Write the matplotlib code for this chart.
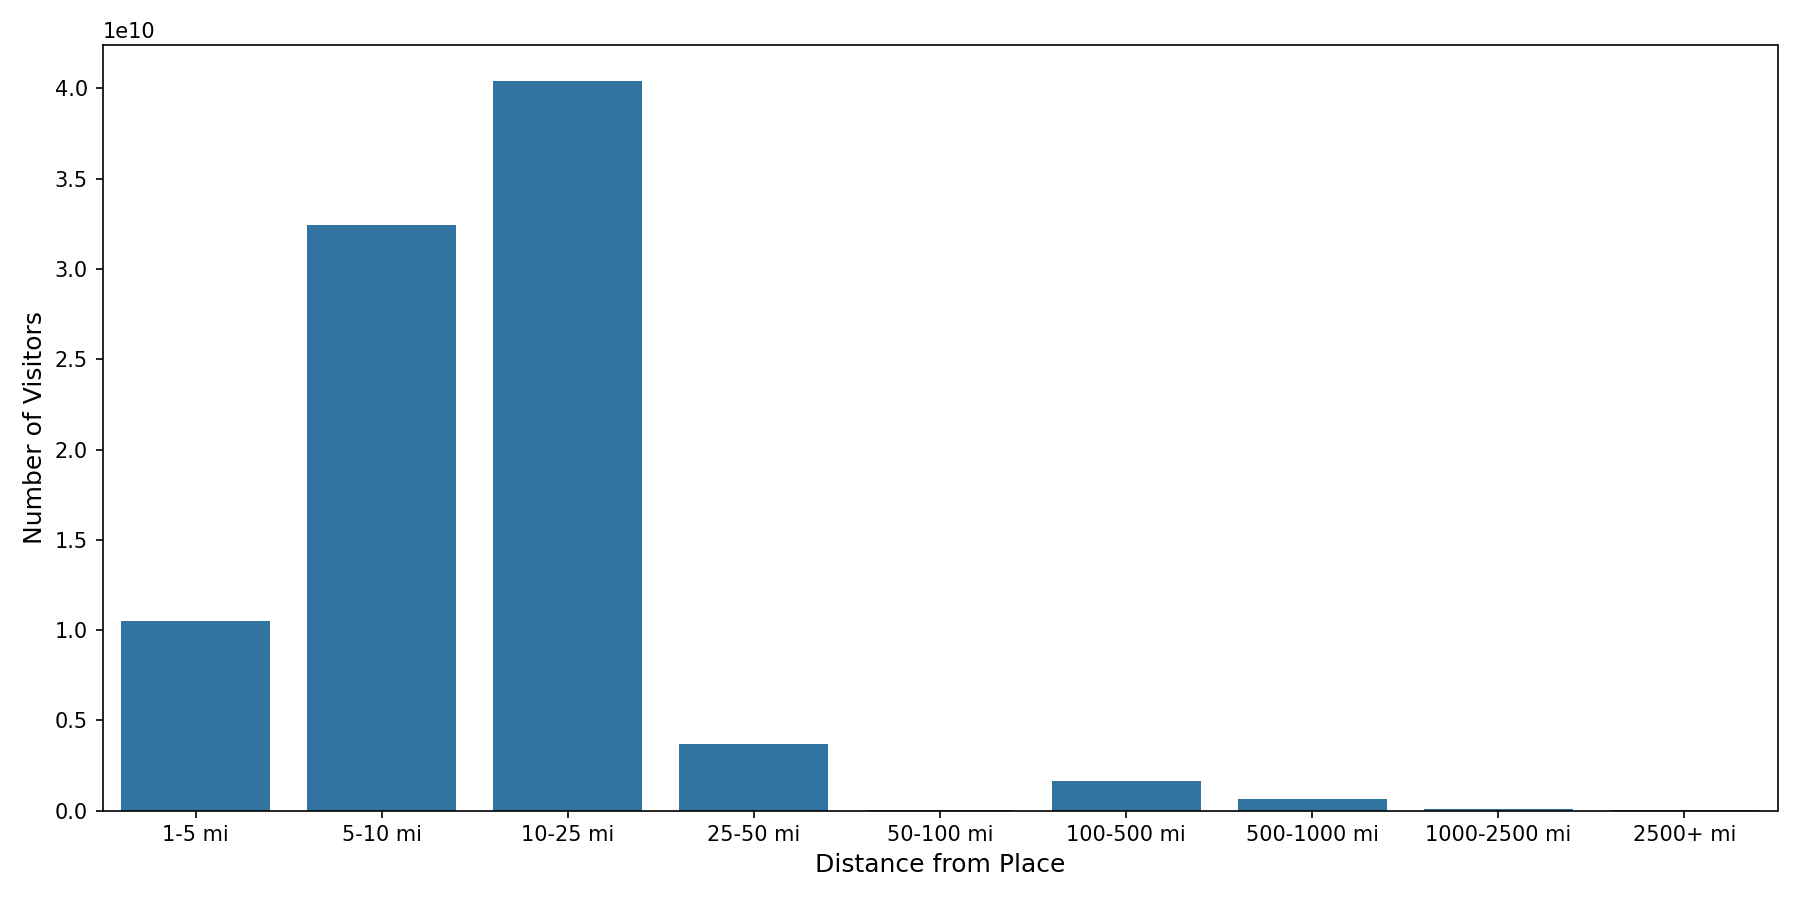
import numpy as np
import pandas as pd
import seaborn as sns
import matplotlib
matplotlib.use("Agg")
import matplotlib.pyplot as plt

# === DONNÉES ===
distances = ["1-5 mi", "5-10 mi", "10-25 mi", "25-50 mi", "50-100 mi",
             "100-500 mi", "500-1000 mi", "1000-2500 mi", "2500+ mi"]
visitors = [1.05e10, 3.245e10, 4.04e10, 0.371e10, 0.002e10,
            0.165e10, 0.066e10, 0.009e10, 0.001e10]

df = pd.DataFrame({"distance": distances, "visitors": visitors})

# === PLOT ===
fig, ax = plt.subplots(figsize=(12, 6), dpi=150)
sns.barplot(data=df, x="distance", y="visitors", color="#1f77b4", ax=ax)
ax.set_xlabel("Distance from Place", fontsize=12)
ax.set_ylabel("Number of Visitors", fontsize=12)
plt.tight_layout()
plt.savefig("out.png")
